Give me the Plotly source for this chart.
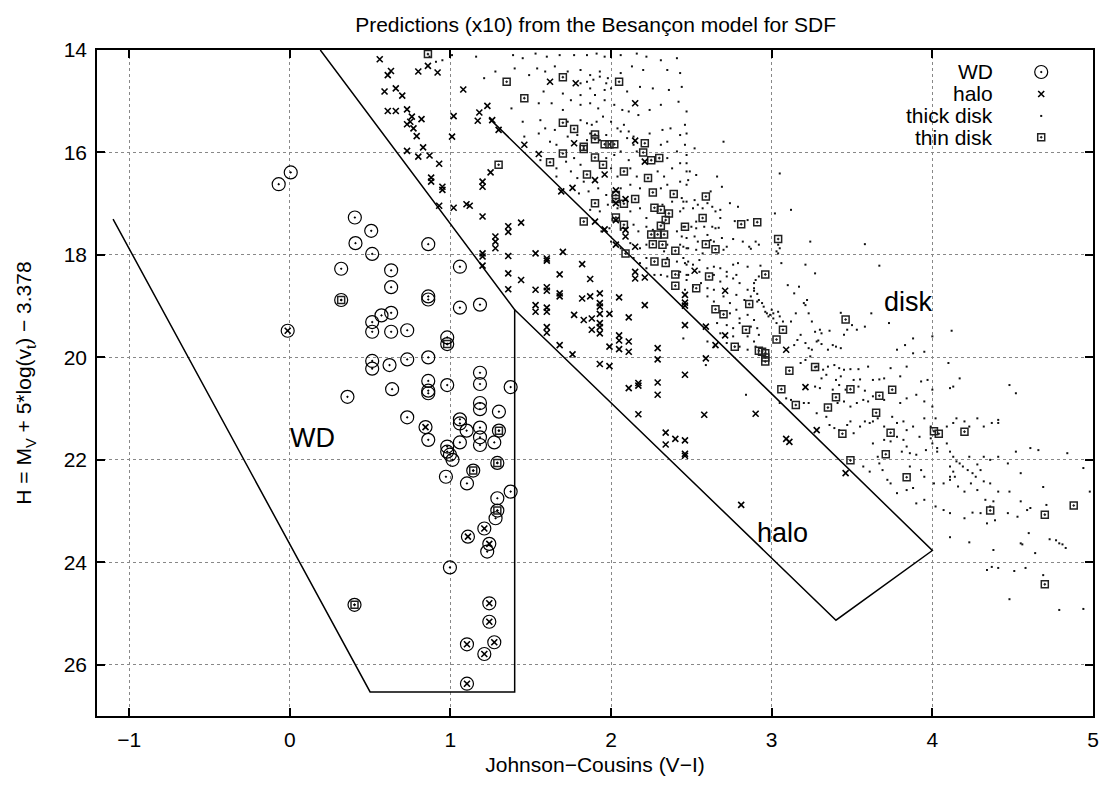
import plotly.graph_objects as go

title_text = "Predictions (x10) from the Besançon model for SDF"
x_title = "Johnson−Cousins (V−I)"
y_title = "H = M<sub>V</sub> + 5*log(v<sub>t</sub>) − 3.378"
x_ticks = [-1, 0, 1, 2, 3, 4, 5]
x_ticklabels = ["−1", "0", "1", "2", "3", "4", "5"]
y_ticks = [14, 16, 18, 20, 22, 24, 26]
x_range = [-1.2, 5.0]
y_range = [27.0, 14.0]

wd_pts = [(0.006,16.39),(-0.069,16.62),(0.405,17.27),(0.507,17.53),(0.409,17.77),(0.513,17.98),(0.862,17.79),
          (0.320,18.27),(0.631,18.30),(0.631,18.63),(1.059,18.23),(0.320,18.88),(0.862,18.81),(0.862,18.87),
          (1.059,19.03),(1.184,18.97),(-0.013,19.48),(0.513,19.31),(0.571,19.18),(0.631,19.13),(0.513,19.50),
          (0.631,19.50),(0.731,19.47),(0.980,19.61),(0.980,19.74),(0.513,20.07),(0.513,20.22),(0.621,20.15),
          (0.731,20.04),(0.862,20.00),(0.980,20.54),(0.862,20.46),(0.862,20.65),(0.862,20.70),(1.184,20.30),
          (1.184,20.52),(1.375,20.58),(0.637,20.62),(0.359,20.77),(0.731,21.17),(0.845,21.36),(0.862,21.61),
          (1.059,21.21),(1.059,21.29),(1.101,21.43),(1.184,20.89),(1.184,21.01),(1.302,21.06),(1.184,21.37),
          (1.184,21.56),(1.184,21.71),(1.302,21.43),(1.273,21.66),(1.059,21.66),(0.980,21.74),(0.980,21.84),
          (0.997,21.90),(1.013,22.00),(1.142,22.21),(1.292,22.06),(0.972,22.33),(1.103,22.46),(1.375,22.62),
          (1.292,22.75),(1.292,22.99),(1.281,23.14),(1.211,23.34),(1.109,23.50),(1.242,23.64),(1.229,23.79),
          (0.997,24.10),(0.403,24.83),(1.242,24.80),(1.242,25.16),(1.103,25.60),(1.273,25.56),(1.211,25.79),
          (1.103,26.37)]

halo_pts = [(0.56,14.18),(0.61,14.49),(0.63,14.41),(0.80,14.42),(0.86,14.31),(0.92,14.44),(0.59,14.81),(0.66,14.75),
            (0.70,14.89),(0.61,15.19),(0.66,15.19),(0.73,15.16),(0.76,15.30),(0.73,15.45),(0.75,15.40),(0.77,15.53),
            (0.82,15.35),(0.79,15.68),(0.83,15.90),(0.73,15.97),(0.80,16.08),(0.87,16.06),(0.93,16.22),(0.88,16.49),
            (0.88,16.57),(0.95,16.67),(0.95,16.73),(0.93,17.04),(1.02,17.08),(1.10,17.01),(1.12,17.04),(1.02,15.29),
            (1.01,15.69),(1.08,14.77),(1.18,15.22),(1.17,15.38),(1.23,15.09),(1.26,15.37),(1.30,15.56),(1.20,17.25),
            (1.20,16.57),(1.20,16.67),(1.25,16.39),(1.36,17.44),(1.36,17.55),(1.44,17.37),(1.28,17.64),(1.28,17.74),
            (1.28,17.87),(1.20,17.97),(1.20,18.03),(1.20,18.21),(1.36,18.02),(1.53,17.97),(1.60,18.07),(1.60,18.11),
            (1.70,17.94),(1.82,18.18),(1.36,18.36),(1.44,18.49),(1.36,18.67),(1.53,18.68),(1.60,18.63),(1.60,18.70),
            (1.68,18.75),(1.68,18.81),(1.68,18.38),(1.87,18.47),(1.82,18.85),(1.87,18.81),(1.93,18.75),(1.93,18.94),
            (1.93,19.01),(2.05,18.83),(2.21,18.98),(1.53,18.98),(1.53,19.11),(1.60,19.03),(1.60,19.11),(1.77,19.17),
            (1.83,19.27),(1.88,19.24),(1.93,19.15),(1.99,19.15),(1.93,19.33),(1.93,19.41),(1.93,19.53),(1.88,19.46),
            (2.11,19.22),(1.60,19.41),(1.60,19.52),(2.05,19.57),
            (1.68,19.76),(1.76,19.94),(1.93,20.13),(1.99,19.79),(1.99,20.17),(2.05,19.67),(2.05,19.84),(2.11,19.69),
            (2.11,19.89),(2.11,20.60),(2.15,18.33),(2.15,18.46),(2.21,18.44),(2.17,20.50),(2.17,20.55),(2.17,21.11),
            (2.29,19.82),(2.29,20.04),(2.29,20.49),(2.29,20.73),(2.34,21.47),(2.34,21.70),(2.40,21.59),(2.46,21.62),
            (2.46,21.88),(2.46,21.92),(2.46,20.34),(2.46,18.78),(2.46,18.93),(2.46,18.99),(2.46,19.37),(2.59,19.40),
            (2.59,20.02),(2.58,21.12),(2.71,18.70),(2.71,19.57),(2.65,19.76),(2.90,21.10),(2.52,18.31),
            (1.62,14.62),(1.78,14.65),(1.46,15.85),(1.55,16.03),(1.77,15.82),(1.90,16.54),(1.96,16.43),(1.69,16.76),
            (1.76,16.69),(2.03,16.74),(2.03,16.99),(2.09,16.91),(2.15,15.04),(2.15,15.77),(2.21,16.18),(1.90,17.35),
            (1.96,17.50),(2.03,17.32),(2.09,17.51),(2.09,17.64),(2.03,17.80),(2.15,17.84),
            (3.09,19.85),(3.21,20.58),(3.09,21.59),(3.11,21.65),(3.28,21.42),(3.46,22.26),(2.81,22.88),
            (-0.013,19.48),(0.845,21.36),(1.211,23.34),(1.109,23.50),(1.242,23.64),(1.242,24.80),(1.242,25.16),
            (1.103,25.60),(1.273,25.56),(1.211,25.79),(1.103,26.37)]

thin_pts = [(0.86,14.08),(1.35,14.62),(1.70,14.53),(2.05,14.62),(1.46,14.94),(1.70,15.42),(1.77,15.54),(1.90,15.65),
            (1.90,15.74),(1.83,15.89),(1.83,15.93),(1.96,15.84),(1.99,15.84),(2.02,15.84),(1.70,16.02),(1.62,16.19),
            (1.90,16.10),(1.95,16.24),(1.85,16.43),(2.08,16.37),(2.21,15.82),(2.20,16.00),(2.25,16.15),(2.30,16.11),
            (2.23,16.50),(1.30,16.24),(2.03,16.83),(2.03,16.91),(2.08,17.00),(2.15,16.91),(1.90,16.99),(2.26,16.78),
            (2.39,16.81),(2.27,17.08),(2.31,17.12),(2.36,17.19),(2.34,17.32),(2.31,17.43),(2.03,17.27),(1.83,17.35),
            (2.08,17.41),(2.25,17.60),(2.29,17.60),(2.33,17.60),(2.26,17.79),(2.32,17.80),(2.46,17.45),(2.40,17.92),
            (2.09,17.97),(2.27,18.13),(2.34,18.16),(2.40,18.38),
            (2.59,16.86),(2.57,17.28),(2.81,17.40),(2.91,17.36),(2.59,17.79),(2.65,17.89),(3.04,17.69),(2.96,18.38),
            (2.40,18.60),(2.53,18.65),(2.61,18.42),(2.65,19.06),(2.70,19.16),(2.86,18.96),(2.84,19.46),(2.77,19.79),
            (2.92,19.87),
            (3.46,19.26),(3.07,19.46),(3.03,19.65),(2.94,19.89),(2.96,19.92),(2.96,20.00),(2.96,20.08),(3.11,20.26),
            (3.27,20.19),(3.06,20.62),(3.49,20.62),(3.40,20.78),(3.67,20.75),(3.75,20.63),(3.15,20.93),(3.35,20.98),
            (3.65,21.08),(3.44,21.49),(3.74,21.47),(4.01,21.44),(4.04,21.49),(4.20,21.45),(3.71,21.89),(3.49,22.01),
            (3.84,22.34),(4.36,22.99),(4.70,23.07),(4.88,22.89),(4.70,24.43),
            (0.320,18.88),(0.980,19.74),(1.302,21.43),(1.142,22.21),(1.292,22.06),(1.292,22.99),(0.403,24.83)]

thick_pts = [(0.87,14.13),(0.91,14.23),(0.95,14.20),(1.01,14.10),(1.16,14.13),
             (1.39,14.10),(1.45,14.16),(1.53,14.07),(1.60,14.13),(1.68,14.10),(1.77,14.10),(1.85,14.10),(1.91,14.07),
             (1.96,14.13),(2.06,14.10),(2.16,14.07),(2.22,14.13),(2.31,14.20),(2.41,14.16),
             (1.21,14.55),(1.28,14.42),(1.40,14.36),(1.49,14.49),(1.54,14.36),(1.59,14.42),(1.65,14.32),(1.73,14.42),
             (1.81,14.39),(1.87,14.49),(1.93,14.42),(1.98,14.55),(2.06,14.45),(2.13,14.32),(2.20,14.39),(2.35,14.39),
             (2.43,14.45),(1.81,14.65),(1.85,14.62),(1.89,14.58),(1.93,14.52),(1.97,14.65),(1.58,14.81),(1.70,14.85),
             (1.81,14.88),(1.87,14.75),(1.90,14.88),(1.96,14.78),(2.00,14.75),(2.10,14.81),(2.18,14.72),(2.26,14.75),
             (2.36,14.78),(2.44,14.72),(1.38,15.14),(1.55,15.04),(1.63,15.04),(1.70,15.17),(1.75,14.98),(1.81,15.07),
             (1.87,15.04),(1.92,15.14),(1.96,14.98),(2.02,15.07),(2.07,15.17),(2.11,15.20),(2.17,15.27),(2.24,15.17),
             (2.31,15.07),(2.42,15.01),(2.47,15.20),(1.45,15.40),(1.56,15.37),(1.59,15.53),(1.65,15.56),(1.73,15.40),
             (1.81,15.37),(1.85,15.43),(1.88,15.46),(1.91,15.40),(1.95,15.30),(2.00,15.40),(2.04,15.53),(2.08,15.46),
             (2.11,15.59),(2.14,15.69),(2.24,15.63),(2.32,15.56),(2.37,15.53),(2.43,15.66),(2.47,15.63),(1.46,15.69),
             (1.55,15.63),(1.62,15.79),(1.66,15.85),(1.73,15.69),(1.79,15.66),(1.85,15.76),(1.87,15.63),(1.93,15.76),
             (1.97,15.66),(2.06,15.59),(2.10,15.72),(2.14,15.85),(2.31,15.85),(2.35,15.79),(2.41,15.98),(2.46,15.85),
             (1.56,16.15),(1.66,16.31),(1.72,16.18),(1.77,16.11),(1.81,16.24),(1.97,16.11),(2.02,16.05),(2.06,15.98),
             (2.11,16.15),(2.16,15.98),(2.35,16.11),(2.43,16.21),(2.47,16.05),(1.66,16.47),(1.75,16.37),(1.79,16.50),
             (1.83,16.57),(2.00,16.31),(2.04,16.47),(2.12,16.31),(2.16,16.47),(2.29,16.37),(2.33,16.47),(2.38,16.31),
             (2.47,16.37),(1.80,16.80),(1.86,16.76),(1.92,16.70),(1.97,16.83),(2.06,16.70),(2.12,16.63),(2.18,16.70),
             (2.31,16.70),(2.35,16.63),(2.43,16.57),(2.47,16.63),(1.87,17.12),(1.93,17.15),(1.98,17.02),(2.04,17.09),
             (2.12,17.15),(2.18,17.09),(2.22,17.28),(2.32,17.02),(2.38,16.96),(2.43,17.15),(2.45,16.96),(1.94,17.54),
             (1.99,17.48),(2.06,17.51),(2.14,17.41),(2.17,17.54),(2.22,17.45),(2.26,17.51),(2.41,17.54),(2.45,17.45),
             (2.00,17.74),(2.06,17.87),(2.12,17.77),(2.18,17.87),(2.22,17.80),(2.35,17.80),(2.43,17.80),(2.47,17.87),
             (2.14,18.06),(2.18,18.16),(2.22,18.06),(2.33,17.93),(2.35,18.06),(2.41,18.13),(2.45,18.06),(2.47,18.19),
             (2.22,18.26),(2.31,18.39),(2.43,18.33),(2.47,18.39),
             (2.46,15.46),(2.52,15.92),(2.70,15.79),(2.47,16.21),(2.49,16.37),(2.53,16.44),(2.48,16.54),(2.66,16.47),
             (2.69,16.67),(2.62,16.76),(2.44,16.89),(2.47,16.96),(2.52,16.93),(2.54,17.02),(2.57,17.09),(2.60,16.99),
             (2.63,17.06),(2.65,17.15),(2.68,17.12),(2.74,16.99),(2.79,17.06),(2.68,17.28),(2.51,17.09),(2.45,17.09),
             (2.53,17.35),(2.50,17.45),(2.53,17.48),(2.58,17.45),(2.63,17.45),(2.65,17.48),(2.67,17.47),(2.77,17.34),
             (2.85,17.32),(2.44,17.64),(2.47,17.67),(2.52,17.64),(2.54,17.74),(2.60,17.61),(2.62,17.71),(2.64,17.74),
             (2.69,17.67),(2.76,17.69),(2.82,17.74),(2.86,17.84),(2.90,17.74),(2.92,17.80),(2.87,17.88),(2.45,17.84),
             (2.48,17.87),(2.53,17.90),(2.57,17.97),(2.70,17.90),(2.72,17.84),(2.46,18.16),(2.48,18.13),(2.51,18.19),
             (2.55,18.10),(2.60,18.26),(2.64,18.23),(2.68,18.26),(2.76,18.19),(2.79,18.16),(2.85,18.23),(2.93,18.21),
             (2.48,18.39),(2.55,18.33),(2.64,18.39),(2.72,18.33),(2.78,18.39),(3.05,16.41),(3.12,17.12),(3.02,17.19),
             (3.04,17.80),(3.05,17.87),(3.03,17.93),(3.06,18.16),(3.24,17.74),(3.21,18.19),(3.27,18.36),(3.58,17.79),
             (3.67,18.21),(3.04,17.97),
             (2.27,18.39),(2.35,18.42),(2.42,18.39),(2.47,18.49),(2.51,18.62),(2.56,18.55),(2.60,18.65),(2.64,18.68),
             (2.68,18.52),(2.72,18.42),(2.76,18.46),(2.80,18.55),(2.85,18.68),(2.89,18.65),(2.92,18.42),(2.46,18.68),
             (2.60,18.81),(2.64,18.91),(2.70,18.81),(2.74,18.94),(2.78,18.78),(2.83,18.88),(2.87,18.81),(2.91,18.91),
             (2.74,19.14),(2.78,19.07),(2.80,19.24),(2.85,19.17),(2.89,19.27),(2.66,19.33),(2.72,19.37),(2.76,19.43),
             (2.80,19.33),(2.87,19.40),(2.91,19.43),(2.68,19.53),(2.76,19.59),(2.85,19.59),(2.89,19.69),(2.92,19.56),
             (2.60,19.69),(2.64,19.79),(2.72,19.72),(2.80,19.79),(2.85,19.85),(2.90,19.79),(2.59,20.15),(2.84,20.73),
             (2.45,19.63),
             (2.89,18.55),(2.90,18.49),(2.89,18.70),(2.91,18.76),(2.92,18.88),(2.94,18.94),(2.95,19.01),(2.96,19.11),
             (2.97,19.14),(2.98,19.20),(2.99,19.17),(3.00,19.07),(3.01,19.14),(3.01,19.24),(3.03,19.33),(3.04,19.11),
             (3.05,19.20),(3.07,19.30),(3.10,18.59),(3.14,18.75),(3.17,18.62),(3.12,19.30),(3.15,19.14),(3.20,18.94),
             (3.22,18.88),(3.21,18.98),(3.23,19.14),(3.25,19.30),(3.27,19.50),(3.30,19.46),(3.31,19.53),(3.29,19.67),
             (3.18,19.56),(3.16,19.66),(3.14,19.76),(3.21,19.72),(3.23,19.82),(3.25,19.85),(3.28,19.69),(3.31,19.74),
             (3.35,19.85),(3.38,19.76),(3.40,19.79),(3.43,19.82),(3.45,19.56),(3.43,19.13),(3.36,19.48),(3.47,19.46),
             (3.50,19.37),(3.53,19.46),(3.58,19.40),(3.62,19.14),(3.73,19.33),(3.78,19.85),(3.83,19.76),(3.88,19.63),
             (4.00,19.59),(3.88,19.92),(3.95,19.89),(4.10,20.11),(4.12,19.48),(4.17,20.41),(3.18,20.11),(3.21,20.05),
             (3.24,19.98),(3.28,20.18),(3.32,20.24),(3.35,20.18),(3.39,20.15),(3.42,20.21),(3.45,20.24),(3.49,20.23),
             (3.54,20.23),(3.60,20.18),(3.34,20.34),(3.31,20.41),(3.40,20.44),(3.43,20.37),(3.51,20.44),(3.55,20.43),
             (3.63,20.44),(3.67,20.43),(3.70,20.41),(3.74,20.21),(3.80,20.37),(3.84,20.18),(3.93,20.47),(3.97,20.44),
             (3.27,20.57),(3.30,20.60),(3.38,20.63),(3.42,20.54),(3.46,20.63),(3.54,20.57),(3.58,20.65),(3.41,20.89),
             (3.45,20.86),(3.49,20.96),(3.53,20.89),(3.57,20.83),(3.60,20.86),(3.63,20.76),(3.70,20.83),(3.80,20.89),
             (3.84,20.80),(3.90,20.73),(3.95,20.86),(4.00,20.63),(4.00,20.96),(4.11,20.60),(4.13,20.57),(3.20,20.89),
             (3.23,20.89),(3.12,20.83),(3.09,20.80),(3.05,20.89),(3.28,21.09),(3.34,21.16),(3.36,21.32),(3.39,21.38),
             (3.42,21.42),(3.47,21.32),(3.49,21.25),(3.51,21.48),(3.55,21.35),(3.58,21.25),(3.61,21.28),(3.63,21.25),
             (3.66,21.19),(3.70,21.35),(3.75,21.16),(3.78,21.28),(3.82,21.25),(3.84,21.42),(3.88,21.35),(3.92,21.55),
             (3.95,21.19),(3.99,21.35),(4.02,21.19),(4.00,21.68),(4.03,21.77),(4.09,21.35),(4.13,21.28),(4.15,21.19),
             (4.20,21.25),(4.23,21.35),(4.28,21.19),(4.32,21.35),(4.37,21.28),(4.41,21.22),(4.41,21.28),(4.48,20.54),
             (4.52,20.70),(3.70,21.61),(3.74,21.64),(3.78,21.55),(3.82,21.61),(3.84,21.74),(3.81,21.84),(3.86,21.87),
             (3.90,21.90),(3.96,21.81),(3.99,21.58),(4.03,21.84),(4.09,21.68),(4.11,21.84),(4.13,21.94),(4.15,22.03),
             (4.19,22.13),(4.22,22.20),(4.25,22.26),(4.27,22.33),(4.30,22.20),(4.32,22.42),(4.36,22.46),(4.11,22.13),
             (4.13,22.23),(4.17,22.07),(4.23,21.94),(4.28,22.09),(4.32,21.94),(4.36,22.00),(4.41,21.94),(4.47,22.07),
             (4.52,21.84),(4.55,22.26),(4.61,21.77),(4.66,21.81),(4.69,22.53),(4.84,21.87),(4.94,22.16),(4.98,22.62),
             (4.41,22.62),(4.48,22.62),(4.55,22.81),(4.61,22.94),(4.71,22.88),(3.78,22.65),(3.84,22.59),(3.88,22.55),
             (3.90,22.85),(3.95,22.78),(4.01,22.46),(4.07,22.46),(4.11,22.39),(4.14,22.33),(4.16,22.52),(4.20,22.62),
             (4.24,22.46),(4.28,22.59),(4.33,22.78),(4.38,22.81),(4.02,22.91),(4.07,22.98),(4.11,23.04),(4.20,23.14),
             (4.25,23.03),(4.30,23.04),(4.36,22.91),(4.47,23.04),(4.53,23.11),(4.59,22.98),(4.11,22.33),(3.86,22.13),
             (3.93,22.20),(3.95,22.33),(3.63,21.68),(3.66,21.94),(3.67,22.07),(3.57,22.13),(3.61,22.23),(3.69,22.20),
             (3.72,22.39),(3.74,22.46),
             (4.34,23.24),(4.39,23.18),(4.60,23.43),(4.11,23.51),(4.23,23.61),(4.38,23.76),(4.55,23.63),(4.56,23.65),
             (4.64,23.82),(4.73,23.55),(4.77,23.57),(4.79,23.63),(4.81,23.65),(4.83,23.72),(4.34,24.15),(4.37,24.09),
             (4.41,24.11),(4.51,24.17),(4.58,24.11),(4.69,24.25),(4.48,24.72),(4.79,24.93),(4.94,24.91)]

# Selection region boundaries (reduced proper motion cuts)
wd_box_x = [-1.1, 0.5, 1.4, 1.4, 0.19]
wd_box_y = [17.3, 26.53, 26.53, 19.07, 14.0]
halo_box_x = [1.4, 3.4, 4.0, 1.24]
halo_box_y = [19.07, 25.13, 23.77, 15.33]

region_labels = ["WD", "halo", "disk"]
region_x = [0.14, 3.07, 3.85]
region_y = [21.57, 23.42, 18.92]

legend_names = ["WD", "halo", "thick disk", "thin disk"]
legend_rows = [0.967, 0.934, 0.901, 0.869]   # paper fractions
legend_text_x = 0.902
legend_key_x = 0.948

FONT = "Liberation Sans, Arial, Helvetica, sans-serif"
FS = 21

def xs(pts):
    return [p[0] for p in pts]

def ys(pts):
    return [p[1] for p in pts]

styles = {
    "WD": dict(symbol="circle-open-dot", size=13, color="black", line=dict(width=1.2, color="black")),
    "halo": dict(symbol="x-thin-open", size=6, color="black", line=dict(width=1.6, color="black")),
    "thick disk": dict(symbol="square", size=2, color="#111111", line=dict(width=0)),
    "thin disk": dict(symbol="square-open-dot", size=7, color="#222222", line=dict(width=1.5, color="#222222")),
}

fig = go.Figure()

fig.add_trace(go.Scatter(x=wd_box_x, y=wd_box_y, mode="lines", line=dict(color="black", width=1.5),
                         showlegend=False, hoverinfo="skip"))
fig.add_trace(go.Scatter(x=halo_box_x, y=halo_box_y, mode="lines", line=dict(color="black", width=1.5),
                         showlegend=False, hoverinfo="skip"))

series = [("thick disk", thick_pts), ("thin disk", thin_pts), ("halo", halo_pts), ("WD", wd_pts)]
for name, pts in series:
    fig.add_trace(go.Scatter(x=xs(pts), y=ys(pts), mode="markers", name=name,
                             marker=styles[name], showlegend=False))

# legend keys (gnuplot style: text right-aligned, symbol to its right)
key_x = x_range[0] + legend_key_x * (x_range[1] - x_range[0])
for name, r in zip(legend_names, legend_rows):
    ky = y_range[0] + r * (y_range[1] - y_range[0])
    fig.add_trace(go.Scatter(x=[key_x], y=[ky], mode="markers", marker=styles[name],
                             showlegend=False, hoverinfo="skip", cliponaxis=False))
    fig.add_annotation(x=legend_text_x, y=r, xref="paper", yref="paper", text=name,
                       showarrow=False, xanchor="right", yanchor="middle",
                       font=dict(family=FONT, size=FS, color="black"))

for t, x, y in zip(region_labels, region_x, region_y):
    fig.add_annotation(x=x, y=y, text=t, showarrow=False, xanchor="center", yanchor="middle",
                       font=dict(family=FONT, size=27, color="black"))

axis_common = dict(showline=True, linecolor="black", linewidth=1.6, mirror="ticks",
                   ticks="inside", ticklen=8, tickwidth=1.5, tickcolor="black",
                   showgrid=True, gridcolor="#888888", griddash="dot", gridwidth=1,
                   zeroline=False, automargin=False,
                   tickfont=dict(family=FONT, size=FS, color="black"))

fig.update_xaxes(range=x_range, tickvals=x_ticks, ticktext=x_ticklabels,
                 title=dict(text=x_title, font=dict(family=FONT, size=FS, color="black"), standoff=7),
                 ticklabelstandoff=4, **axis_common)
fig.update_yaxes(range=y_range, tickvals=y_ticks,
                 title=dict(text=y_title, font=dict(family=FONT, size=FS, color="black"), standoff=26),
                 ticklabelstandoff=4, **axis_common)

fig.update_layout(
    width=1105, height=785,
    margin=dict(l=97, r=12, t=50, b=69),
    paper_bgcolor="white", plot_bgcolor="white",
    title=dict(text=title_text, x=0.539, xanchor="center", y=0.969, yanchor="middle",
               font=dict(family=FONT, size=FS, color="black")),
    showlegend=False,
)

fig.write_html("out.html")
